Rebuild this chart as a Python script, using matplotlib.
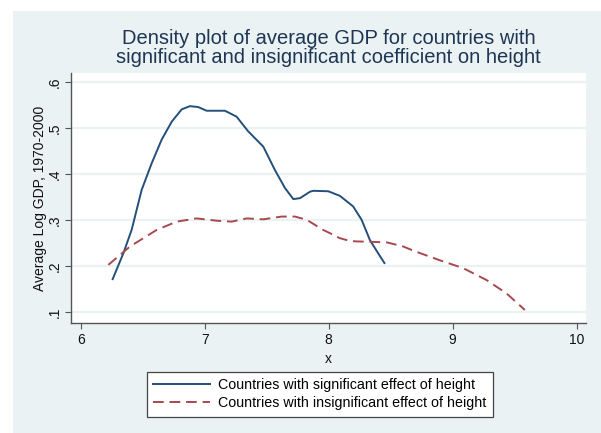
import matplotlib
matplotlib.use("Agg")
import matplotlib.pyplot as plt
from matplotlib.patches import Rectangle

plt.rcParams['font.family'] = ['Liberation Sans', 'DejaVu Sans']

# Kernel density curves (x = average log GDP, y = density)
sig_x = [6.258, 6.344, 6.411, 6.492, 6.573, 6.653, 6.734, 6.815, 6.881, 6.948,
         7.016, 7.164, 7.258, 7.352, 7.473, 7.567, 7.648, 7.715, 7.769, 7.850,
         7.876, 7.997, 8.091, 8.198, 8.266, 8.333, 8.400, 8.450]
sig_y = [0.172, 0.228, 0.279, 0.366, 0.424, 0.475, 0.514, 0.541, 0.548, 0.546,
         0.538, 0.538, 0.525, 0.493, 0.460, 0.409, 0.370, 0.346, 0.348, 0.362,
         0.364, 0.363, 0.353, 0.330, 0.301, 0.257, 0.228, 0.207]

insig_x = [6.223, 6.398, 6.613, 6.774, 6.935, 7.097, 7.218, 7.339, 7.473,
           7.621, 7.728, 7.823, 7.956, 8.010, 8.091, 8.172, 8.226, 8.468,
           8.602, 8.682, 8.897, 9.085, 9.274, 9.435, 9.583]
insig_y = [0.203, 0.243, 0.279, 0.297, 0.304, 0.299, 0.297, 0.304, 0.302,
           0.308, 0.308, 0.301, 0.279, 0.272, 0.261, 0.255, 0.254, 0.252,
           0.243, 0.234, 0.213, 0.196, 0.170, 0.141, 0.105]

x_ticks = [6, 7, 8, 9, 10]
y_ticks = [0.1, 0.2, 0.3, 0.4, 0.5, 0.6]
y_tick_labels = ['.1', '.2', '.3', '.4', '.5', '.6']

title = ("Density plot of average GDP for countries with\n"
         "significant and insignificant coefficient on height")
label_sig = "Countries with significant effect of height"
label_insig = "Countries with insignificant effect of height"

W, H = 601, 433
bg = '#eaf2f3'
navy = '#234f7a'
maroon = '#a8494e'
axis_col = '#555555'

fig = plt.figure(figsize=(W / 100, H / 100), dpi=100, facecolor='white')
fig.patches.append(Rectangle((13 / W, 0), 1 - 13 / W, 1 - 11 / H,
                             transform=fig.transFigure, facecolor=bg,
                             edgecolor='none', zorder=-5))

ax = fig.add_axes([71 / W, 1 - 323 / H, (586 - 71) / W, (323 - 73) / H])
ax.set_facecolor('white')

ax.plot(sig_x, sig_y, color=navy, lw=1.4, label=label_sig, zorder=3)
ax.plot(insig_x, insig_y, color=maroon, lw=1.4, ls=(0, (5.5, 3)),
        label=label_insig, zorder=3)

ax.set_xlim(5.922, 10.076)
ax.set_ylim(0.0767, 0.62)
ax.set_xticks(x_ticks)
ax.set_xticklabels([str(t) for t in x_ticks])
ax.set_yticks(y_ticks)
ax.set_yticklabels(y_tick_labels, rotation=90, va='center')

for t in y_ticks:
    ax.axhline(t, color=bg, lw=1.6, zorder=1)

for s in ['top', 'right']:
    ax.spines[s].set_visible(False)
for s in ['left', 'bottom']:
    ax.spines[s].set_color(axis_col)
    ax.spines[s].set_linewidth(1.0)
ax.tick_params(axis='both', direction='out', length=4, width=0.8,
               color=axis_col, labelsize=10, labelcolor='#111111', pad=3)

ax.set_xlabel('x', fontsize=10, color='#111111', labelpad=4)
ax.set_ylabel('Average Log GDP, 1970-2000', fontsize=10, color='#111111',
              labelpad=0)

fig.text(328.5 / W, 1 - 48 / H, title, ha='center', va='center',
         fontsize=14.5, color='#1e3553', linespacing=1.0)

leg = fig.legend(loc='center', bbox_to_anchor=(320 / W, 1 - 394.3 / H),
                 fontsize=10.25, frameon=True, fancybox=False,
                 edgecolor='#444444', facecolor='white', framealpha=1,
                 handlelength=3.95, handletextpad=0.63, borderpad=0.45,
                 labelspacing=0.3)
leg.get_frame().set_linewidth(0.9)

fig.savefig('out.png', dpi=100, facecolor='white')
